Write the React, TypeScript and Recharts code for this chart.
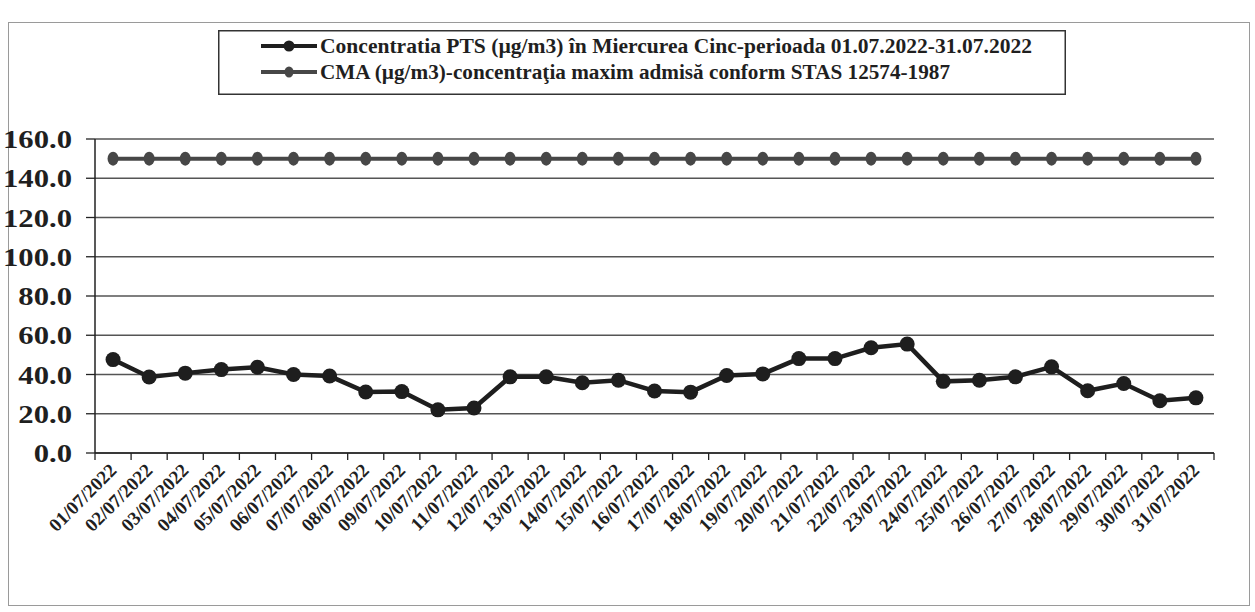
import React from 'react';
import { LineChart, Line, XAxis, YAxis, CartesianGrid, Legend } from 'recharts';

const dates = [
  '01/07/2022', '02/07/2022', '03/07/2022', '04/07/2022', '05/07/2022', '06/07/2022', '07/07/2022',
  '08/07/2022', '09/07/2022', '10/07/2022', '11/07/2022', '12/07/2022', '13/07/2022', '14/07/2022',
  '15/07/2022', '16/07/2022', '17/07/2022', '18/07/2022', '19/07/2022', '20/07/2022', '21/07/2022',
  '22/07/2022', '23/07/2022', '24/07/2022', '25/07/2022', '26/07/2022', '27/07/2022', '28/07/2022',
  '29/07/2022', '30/07/2022', '31/07/2022',
];

const ptsValues = [
  47.6, 38.7, 40.7, 42.5, 43.7, 40.0, 39.2, 31.1, 31.3, 22.0, 22.9, 38.8, 38.8, 35.8, 37.1, 31.6,
  31.0, 39.5, 40.3, 48.1, 48.1, 53.6, 55.5, 36.5, 37.1, 38.8, 43.9, 31.7, 35.4, 26.6, 28.1,
];

const cmaValues = [
  150, 150, 150, 150, 150, 150, 150, 150, 150, 150, 150, 150, 150, 150, 150, 150,
  150, 150, 150, 150, 150, 150, 150, 150, 150, 150, 150, 150, 150, 150, 150,
];

const yTicks = [0, 20, 40, 60, 80, 100, 120, 140, 160];

const ptsName = 'Concentratia PTS (µg/m3) în Miercurea Cinc-perioada 01.07.2022-31.07.2022';
const cmaName = 'CMA (µg/m3)-concentraţia maxim admisă conform STAS 12574-1987';

const data = dates.map((d, i) => ({ date: d, pts: ptsValues[i], cma: cmaValues[i] }));

const W = 1255;
const H = 612;
const M = { top: 139, right: 41, bottom: 59, left: 0 };
const Y_W = 95;
const X_H = 100;
const PLOT_W = W - M.left - M.right - Y_W;
const BAND = PLOT_W / dates.length;

const FONT = "'Liberation Serif', 'Times New Roman', serif";
const PTS_COLOR = '#1e1e1e';
const CMA_COLOR = '#474747';
const TEXT_COLOR = '#1f1f1f';

function XTick(props: any) {
  const { x, y, payload, index } = props;
  return (
    <g transform={`translate(${x},${y})`}>
      <line x1={-BAND / 2} x2={-BAND / 2} y1={0} y2={7} stroke="#222" strokeWidth={1.3} />
      {index === dates.length - 1 ? (
        <line x1={BAND / 2} x2={BAND / 2} y1={0} y2={7} stroke="#222" strokeWidth={1.3} />
      ) : null}
      <text
        transform="translate(0,14) rotate(-45)"
        textAnchor="end"
        dominantBaseline="central"
        style={{ fontFamily: FONT, fontWeight: 700, fontSize: 19 }}
        fill={TEXT_COLOR}
      >
        {payload.value}
      </text>
    </g>
  );
}

function YTick(props: any) {
  const { x, y, payload } = props;
  return (
    <text
      transform={`translate(${x},${y}) scale(1.18,1)`}
      dy="0.35em"
      textAnchor="end"
      style={{ fontFamily: FONT, fontWeight: 700, fontSize: 26 }}
      fill={TEXT_COLOR}
    >
      {Number(payload.value).toFixed(1)}
    </text>
  );
}

function CmaDot(props: any) {
  const { cx, cy, index } = props;
  if (cx == null || cy == null) return <g key={index} />;
  return <ellipse key={index} cx={cx} cy={cy} rx={5.5} ry={7} fill={CMA_COLOR} />;
}

function PtsDot(props: any) {
  const { cx, cy, index } = props;
  if (cx == null || cy == null) return <g key={index} />;
  return <circle key={index} cx={cx} cy={cy} r={7.5} fill={PTS_COLOR} />;
}

function LegendBox(props: any) {
  const payload = ([...(props.payload || [])] as any[]).sort((a, b) =>
    a.dataKey === 'pts' ? -1 : b.dataKey === 'pts' ? 1 : 0
  );
  const textWidths: Record<string, number> = { [ptsName]: 712, [cmaName]: 630 };
  return (
    <svg width={848} height={65} style={{ display: 'block' }}>
      <rect x={0.75} y={0.75} width={846.5} height={63.5} fill="#fff" stroke="#333" strokeWidth={1.5} />
      {payload.map((p, i) => {
        const cy = 16 + i * 26;
        const isPts = p.dataKey === 'pts';
        return (
          <g key={String(p.value)}>
            <line x1={43} x2={99} y1={cy} y2={cy} stroke={p.color} strokeWidth={4} />
            {isPts ? (
              <circle cx={71} cy={cy} r={5.5} fill={p.color} />
            ) : (
              <ellipse cx={71} cy={cy} rx={4.5} ry={5.5} fill={p.color} />
            )}
            <text
              x={102}
              y={cy}
              dy="0.35em"
              style={{ fontFamily: FONT, fontWeight: 700, fontSize: 20 }}
              fill={TEXT_COLOR}
              textLength={textWidths[p.value] || undefined}
              lengthAdjust="spacingAndGlyphs"
            >
              {p.value}
            </text>
          </g>
        );
      })}
    </svg>
  );
}

export default function App() {
  return (
    <div style={{ position: 'absolute', left: 0, top: 0, width: W, height: H, background: '#fff' }}>
      <div
        style={{
          position: 'absolute',
          left: 8,
          top: 22,
          width: 1242,
          height: 584,
          border: '1px solid #9a9a9a',
          boxSizing: 'border-box',
        }}
      />
      <div style={{ position: 'absolute', left: 0, top: 0 }}>
        <LineChart width={W} height={H} data={data} margin={M}>
          <CartesianGrid vertical={false} stroke="#555" strokeWidth={1.5} yAxisId="left" />
          <XAxis
            dataKey="date"
            type="category"
            scale="band"
            height={X_H}
            interval={0}
            tickLine={false}
            tickSize={0}
            tickMargin={0}
            axisLine={{ stroke: '#222', strokeWidth: 1.5 }}
            tick={<XTick />}
          />
          <YAxis
            yAxisId="left"
            width={Y_W}
            domain={[0, 160]}
            ticks={yTicks}
            interval={0}
            tickSize={9}
            tickMargin={14}
            axisLine={{ stroke: '#222', strokeWidth: 1.5 }}
            tickLine={{ stroke: '#222', strokeWidth: 1.3 }}
            tick={<YTick />}
          />
          <YAxis
            yAxisId="right"
            orientation="right"
            width={0}
            domain={[0, 160]}
            tick={false}
            tickLine={false}
            axisLine={{ stroke: '#333', strokeWidth: 1.5 }}
          />
          <Legend
            layout="vertical"
            align="center"
            verticalAlign="middle"
            content={<LegendBox />}
            wrapperStyle={{ position: 'absolute', left: 218, top: 30, width: 848, height: 65 }}
          />
          <Line
            yAxisId="left"
            type="linear"
            dataKey="pts"
            name={ptsName}
            stroke={PTS_COLOR}
            strokeWidth={4.5}
            dot={<PtsDot />}
            activeDot={false}
            isAnimationActive={false}
          />
          <Line
            yAxisId="left"
            type="linear"
            dataKey="cma"
            name={cmaName}
            stroke={CMA_COLOR}
            strokeWidth={4}
            dot={<CmaDot />}
            activeDot={false}
            isAnimationActive={false}
          />
        </LineChart>
      </div>
    </div>
  );
}
